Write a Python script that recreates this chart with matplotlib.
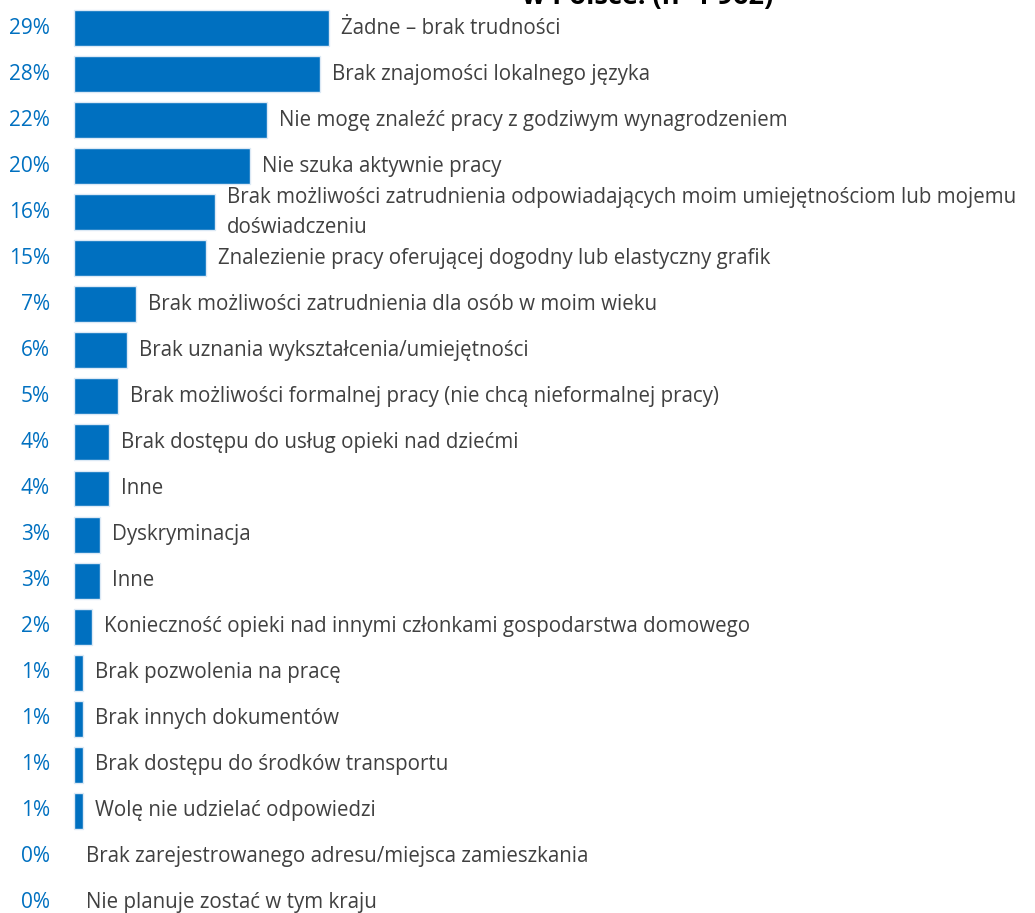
"""Horizontal bar chart: employment difficulties (Polish survey), redrawn with matplotlib."""

import matplotlib
matplotlib.use("Agg")
import matplotlib.pyplot as plt

# --- data ---
categories = [
    "Żadne – brak trudności",
    "Brak znajomości lokalnego języka",
    "Nie mogę znaleźć pracy z godziwym wynagrodzeniem",
    "Nie szuka aktywnie pracy",
    "Brak możliwości zatrudnienia odpowiadających moim umiejętnościom lub mojemu\ndoświadczeniu",
    "Znalezienie pracy oferującej dogodny lub elastyczny grafik",
    "Brak możliwości zatrudnienia dla osób w moim wieku",
    "Brak uznania wykształcenia/umiejętności",
    "Brak możliwości formalnej pracy (nie chcą nieformalnej pracy)",
    "Brak dostępu do usług opieki nad dziećmi",
    "Inne",
    "Dyskryminacja",
    "Inne",
    "Konieczność opieki nad innymi członkami gospodarstwa domowego",
    "Brak pozwolenia na pracę",
    "Brak innych dokumentów",
    "Brak dostępu do środków transportu",
    "Wolę nie udzielać odpowiedzi",
    "Brak zarejestrowanego adresu/miejsca zamieszkania",
    "Nie planuje zostać w tym kraju",
]
percent = [29, 28, 22, 20, 16, 15, 7, 6, 5, 4, 4, 3, 3, 2, 1, 1, 1, 1, 0, 0]

title_tail = "w Polsce: (n=1 962)"

BLUE = "#0070C0"
GREY = "#404040"
FONT = "Open Sans"


def main():
    W, H, DPI = 1035, 913, 100
    fig = plt.figure(figsize=(W / DPI, H / DPI), dpi=DPI)
    ax = fig.add_axes([0, 0, 1, 1])

    px_per_pct = 8.79
    x0_px = 74
    row_px = 46.05
    first_row_px = 28

    rows = list(range(len(categories)))
    # faint light outline like the original; no outline for empty bars
    widths = [1.0 if p > 0 else 0 for p in percent]
    ax.barh(rows, percent, height=0.78, color=BLUE,
            edgecolor="#DCE9F5", linewidth=widths)

    ax.set_xlim(-x0_px / px_per_pct, (W - x0_px) / px_per_pct)
    ax.set_ylim((H - first_row_px) / row_px, -first_row_px / row_px)
    ax.axis("off")

    gap = 12 / px_per_pct
    for i, (cat, p) in enumerate(zip(categories, percent)):
        ax.text(-24 / px_per_pct, i, f"{p}%", ha="right", va="center",
                color=BLUE, fontsize=15, family=FONT)
        ax.text(p + gap, i, cat, ha="left", va="center", color=GREY,
                fontsize=14.8, family=FONT, linespacing=1.55)

    # title sits mostly above the visible area, only its bottom edge shows
    fig.text(648 / W, 1 - 4 / H, title_tail, ha="center", va="baseline",
             fontsize=19.5, fontweight="bold", family=FONT, color="black")

    fig.savefig("out.png", dpi=DPI)
    plt.close(fig)


if __name__ == "__main__":
    main()
